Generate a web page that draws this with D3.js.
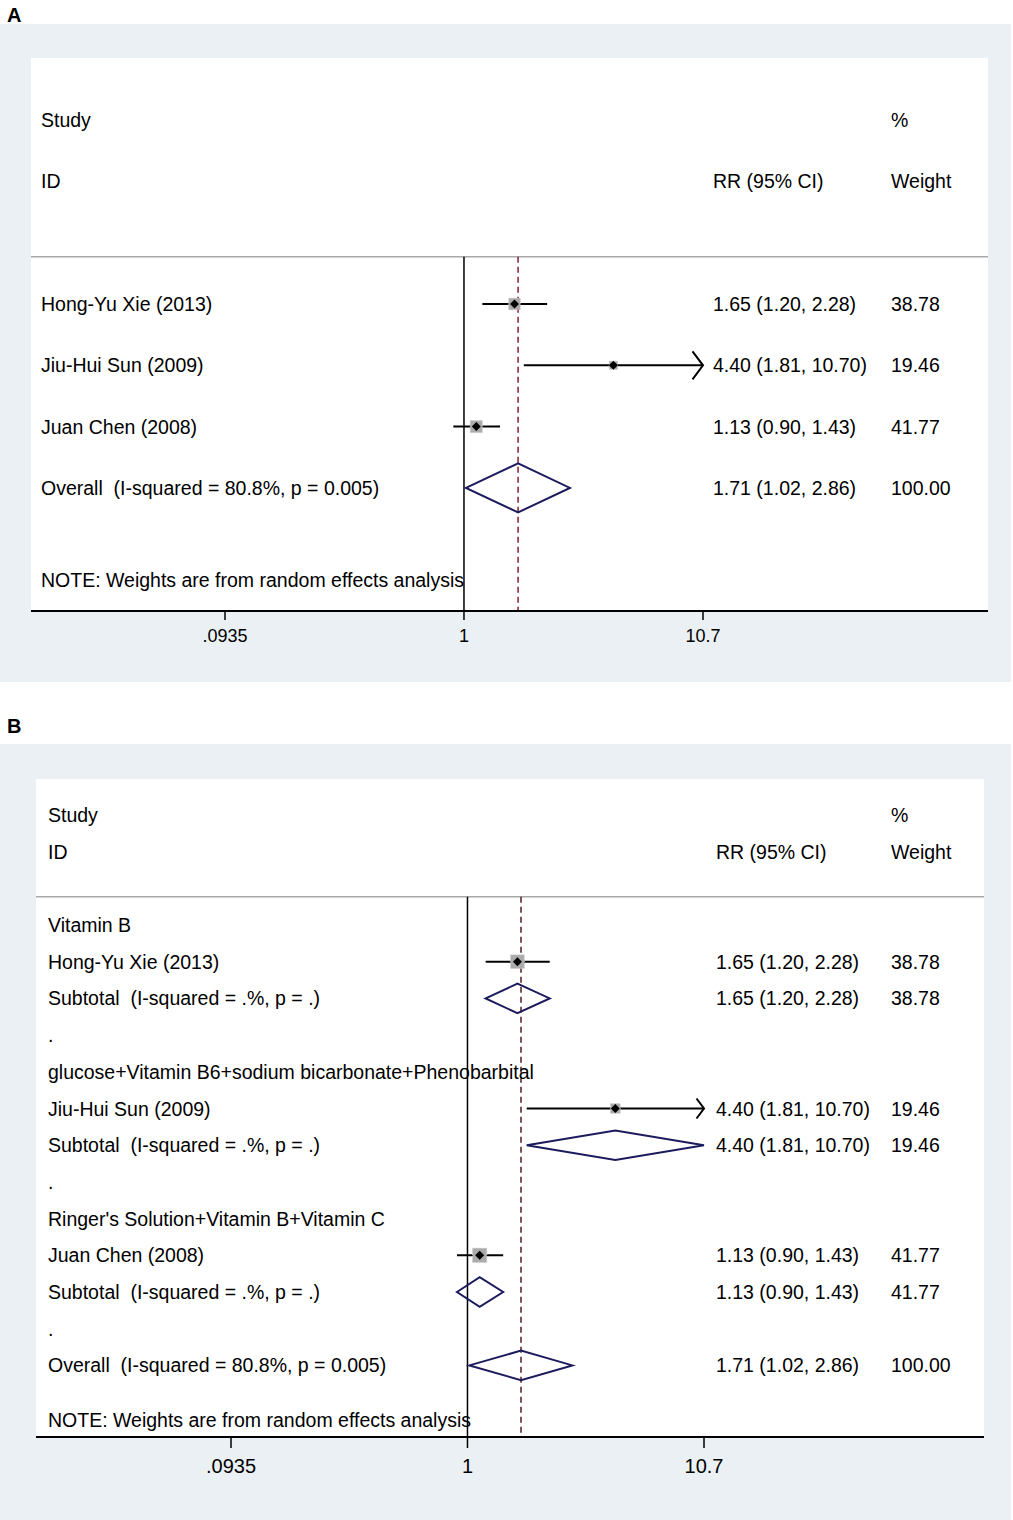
<!DOCTYPE html>
<html>
<head>
  <meta charset="utf-8">
  <script src="https://cdn.jsdelivr.net/npm/d3@7/dist/d3.min.js"></script>
  <style>
    body { margin: 0; background: #fff; }
    text { font-family: "Liberation Sans", Arial, sans-serif; fill: #000; white-space: pre; }
  </style>
</head>
<body>
<script>
// study data
var studies = ["Hong-Yu Xie (2013)", "Jiu-Hui Sun (2009)", "Juan Chen (2008)"];
var rr = [1.65, 4.40, 1.13];
var lower = [1.20, 1.81, 0.90];
var upper = [2.28, 10.70, 1.43];
var weights = [38.78, 19.46, 41.77];

// pooled estimate
var overallLabel = "Overall  (I-squared = 80.8%, p = 0.005)";
var overallRR = 1.71, overallLower = 1.02, overallUpper = 2.86, overallWeight = 100.00;

// subgroups for panel B (one study each)
var subgroups = ["Vitamin B", "glucose+Vitamin B6+sodium bicarbonate+Phenobarbital", "Ringer's Solution+Vitamin B+Vitamin C"];
var subtotalLabel = "Subtotal  (I-squared = .%, p = .)";

// x axis ticks
var tickValues = [0.0935, 1, 10.7];
var tickLabels = [".0935", "1", "10.7"];

var noteText = "NOTE: Weights are from random effects analysis";

var svg = d3.select("body").append("svg")
  .attr("width", 1013)
  .attr("height", 1520);

function fmtRow(est, lo, hi) {
  return est.toFixed(2) + " (" + lo.toFixed(2) + ", " + hi.toFixed(2) + ")";
}

// draws one forest plot panel
function drawPanel(cfg, rows) {
  var g = svg.append("g");

  g.append("text")
    .attr("x", 7).attr("y", cfg.labelY)
    .style("font-weight", "bold").style("font-size", "20px")
    .text(cfg.label);

  g.append("rect")
    .attr("x", 0).attr("y", cfg.bgTop)
    .attr("width", 1011).attr("height", cfg.bgBottom - cfg.bgTop)
    .attr("fill", "#eaf0f3");

  g.append("rect")
    .attr("x", cfg.left).attr("y", cfg.top)
    .attr("width", cfg.right - cfg.left).attr("height", cfg.axisY - cfg.top)
    .attr("fill", "#fff");

  var x = d3.scaleLog()
    .domain([tickValues[0], tickValues[2]])
    .range(cfg.xRange);

  var y = d3.scaleLinear()
    .domain([0, 1])
    .range([cfg.row0, cfg.row0 + cfg.rowStep]);

  var fs = "19.5px";

  // header
  var head = [
    { t: "Study", x: cfg.textX, r: -3 },
    { t: "ID", x: cfg.textX, r: -2 },
    { t: "RR (95% CI)", x: cfg.rrX, r: -2 },
    { t: "%", x: cfg.wX, r: -3 },
    { t: "Weight", x: cfg.wX, r: -2 }
  ];
  g.selectAll(".head").data(head).enter().append("text")
    .attr("x", function (d) { return d.x; })
    .attr("y", function (d) { return y(d.r); })
    .attr("dy", "0.36em")
    .style("font-size", fs)
    .text(function (d) { return d.t; });

  var lineY = y(cfg.headLine);

  g.append("line")
    .attr("x1", cfg.left).attr("x2", cfg.right)
    .attr("y1", lineY).attr("y2", lineY)
    .attr("stroke", "#a8a8a8").attr("stroke-width", 1.5);

  // null line and pooled line
  g.append("line")
    .attr("x1", x(1)).attr("x2", x(1))
    .attr("y1", lineY).attr("y2", cfg.axisY)
    .attr("stroke", "#000").attr("stroke-width", 1.5);

  g.append("line")
    .attr("x1", x(overallRR)).attr("x2", x(overallRR))
    .attr("y1", lineY).attr("y2", cfg.axisY)
    .attr("stroke", cfg.dashColor).attr("stroke-width", 1.6)
    .attr("stroke-dasharray", "6,4");

  // row labels
  g.selectAll(".lab").data(rows).enter().append("text")
    .attr("x", cfg.textX)
    .attr("y", function (d) { return y(d.r); })
    .attr("dy", "0.36em")
    .style("font-size", fs)
    .text(function (d) { return d.label; });

  var est = rows.filter(function (d) { return d.type !== "text"; });

  g.selectAll(".rr").data(est).enter().append("text")
    .attr("x", cfg.rrX)
    .attr("y", function (d) { return y(d.r); })
    .attr("dy", "0.36em")
    .style("font-size", fs)
    .text(function (d) { return fmtRow(d.est, d.lo, d.hi); });

  g.selectAll(".wt").data(est).enter().append("text")
    .attr("x", cfg.wX)
    .attr("y", function (d) { return y(d.r); })
    .attr("dy", "0.36em")
    .style("font-size", fs)
    .text(function (d) { return d.w.toFixed(2); });

  var maxV = tickValues[2];
  var studyRows = est.filter(function (d) { return d.type === "study"; });

  // CI lines
  g.selectAll(".ci").data(studyRows).enter().append("line")
    .attr("x1", function (d) { return x(d.lo); })
    .attr("x2", function (d) { return x(Math.min(d.hi, maxV)); })
    .attr("y1", function (d) { return y(d.r); })
    .attr("y2", function (d) { return y(d.r); })
    .attr("stroke", "#000").attr("stroke-width", 2);

  // arrow where the CI runs past the axis
  g.selectAll(".arrow").data(studyRows.filter(function (d) { return d.hi >= maxV; }))
    .enter().append("path")
    .attr("d", function (d) {
      var xx = x(maxV), yy = y(d.r), a = cfg.arrow;
      return "M" + (xx - a * 0.75) + "," + (yy - a) + "L" + xx + "," + yy + "L" + (xx - a * 0.75) + "," + (yy + a);
    })
    .attr("fill", "none").attr("stroke", "#000").attr("stroke-width", 2);

  // weight boxes
  g.selectAll(".box").data(studyRows).enter().append("rect")
    .attr("x", function (d) { return x(d.est) - cfg.boxK * Math.sqrt(d.w) / 2; })
    .attr("y", function (d) { return y(d.r) - cfg.boxK * Math.sqrt(d.w) / 2; })
    .attr("width", function (d) { return cfg.boxK * Math.sqrt(d.w); })
    .attr("height", function (d) { return cfg.boxK * Math.sqrt(d.w); })
    .attr("fill", "#ababab")
    .attr("stroke", "#c8c8c8").attr("stroke-width", 1)
    .attr("stroke-dasharray", "1,1");

  // point estimates
  g.selectAll(".pt").data(studyRows).enter().append("path")
    .attr("d", function (d) {
      var xx = x(d.est), yy = y(d.r), s = 4.5;
      return "M" + (xx - s) + "," + yy + "L" + xx + "," + (yy - s) + "L" + (xx + s) + "," + yy + "L" + xx + "," + (yy + s) + "Z";
    })
    .attr("fill", "#000");

  // pooled diamonds
  g.selectAll(".dia").data(est.filter(function (d) { return d.type === "pooled"; }))
    .enter().append("path")
    .attr("d", function (d) {
      var yy = y(d.r), h = cfg.diaH;
      return "M" + x(d.lo) + "," + yy + "L" + x(d.est) + "," + (yy - h) +
        "L" + x(Math.min(d.hi, maxV)) + "," + yy + "L" + x(d.est) + "," + (yy + h) + "Z";
    })
    .attr("fill", "none").attr("stroke", "#1b1b5e").attr("stroke-width", 2);

  // note
  g.append("text")
    .attr("x", cfg.textX).attr("y", y(cfg.noteRow))
    .attr("dy", "0.36em")
    .style("font-size", fs)
    .text(noteText);

  // x axis
  g.append("line")
    .attr("x1", cfg.left).attr("x2", cfg.right)
    .attr("y1", cfg.axisY).attr("y2", cfg.axisY)
    .attr("stroke", "#000").attr("stroke-width", 2);

  g.selectAll(".tick").data(tickValues).enter().append("line")
    .attr("x1", function (d) { return x(d); })
    .attr("x2", function (d) { return x(d); })
    .attr("y1", cfg.axisY).attr("y2", cfg.axisY + cfg.tickLen)
    .attr("stroke", "#000").attr("stroke-width", 1.5);

  g.selectAll(".tl").data(tickValues).enter().append("text")
    .attr("x", function (d) { return x(d); })
    .attr("y", cfg.tickLabelY)
    .attr("text-anchor", "middle")
    .style("font-size", cfg.tickFs)
    .text(function (d, i) { return tickLabels[i]; });
}

// panel A rows
var rowsA = studies.map(function (s, i) {
  return { r: i, type: "study", label: s, est: rr[i], lo: lower[i], hi: upper[i], w: weights[i] };
});
rowsA.push({ r: 3, type: "pooled", label: overallLabel, est: overallRR, lo: overallLower, hi: overallUpper, w: overallWeight });

// panel B rows
var rowsB = [];
subgroups.forEach(function (sg, i) {
  var base = i * 4;
  rowsB.push({ r: base, type: "text", label: sg });
  rowsB.push({ r: base + 1, type: "study", label: studies[i], est: rr[i], lo: lower[i], hi: upper[i], w: weights[i] });
  rowsB.push({ r: base + 2, type: "pooled", label: subtotalLabel, est: rr[i], lo: lower[i], hi: upper[i], w: weights[i] });
  rowsB.push({ r: base + 3, type: "text", label: "." });
});
rowsB.push({ r: 12, type: "pooled", label: overallLabel, est: overallRR, lo: overallLower, hi: overallUpper, w: overallWeight });

drawPanel({
  label: "A", labelY: 22,
  bgTop: 24, bgBottom: 682,
  left: 31, right: 988, top: 58, axisY: 611,
  xRange: [225, 703],
  row0: 304, rowStep: 61.3, headLine: -0.77, noteRow: 4.5,
  textX: 41, rrX: 713, wX: 891,
  dashColor: "#8e2c3a",
  boxK: 1.86, diaH: 24.5, arrow: 14,
  tickLen: 9, tickLabelY: 642, tickFs: "18px"
}, rowsA);

drawPanel({
  label: "B", labelY: 733,
  bgTop: 744, bgBottom: 1520,
  left: 36, right: 984, top: 779, axisY: 1437,
  xRange: [231, 704],
  row0: 925, rowStep: 36.7, headLine: -0.77, noteRow: 13.5,
  textX: 48, rrX: 716, wX: 891,
  dashColor: "#5e2a32",
  boxK: 2.2, diaH: 14.8, arrow: 10,
  tickLen: 11, tickLabelY: 1473, tickFs: "20px"
}, rowsB);
</script>
</body>
</html>
